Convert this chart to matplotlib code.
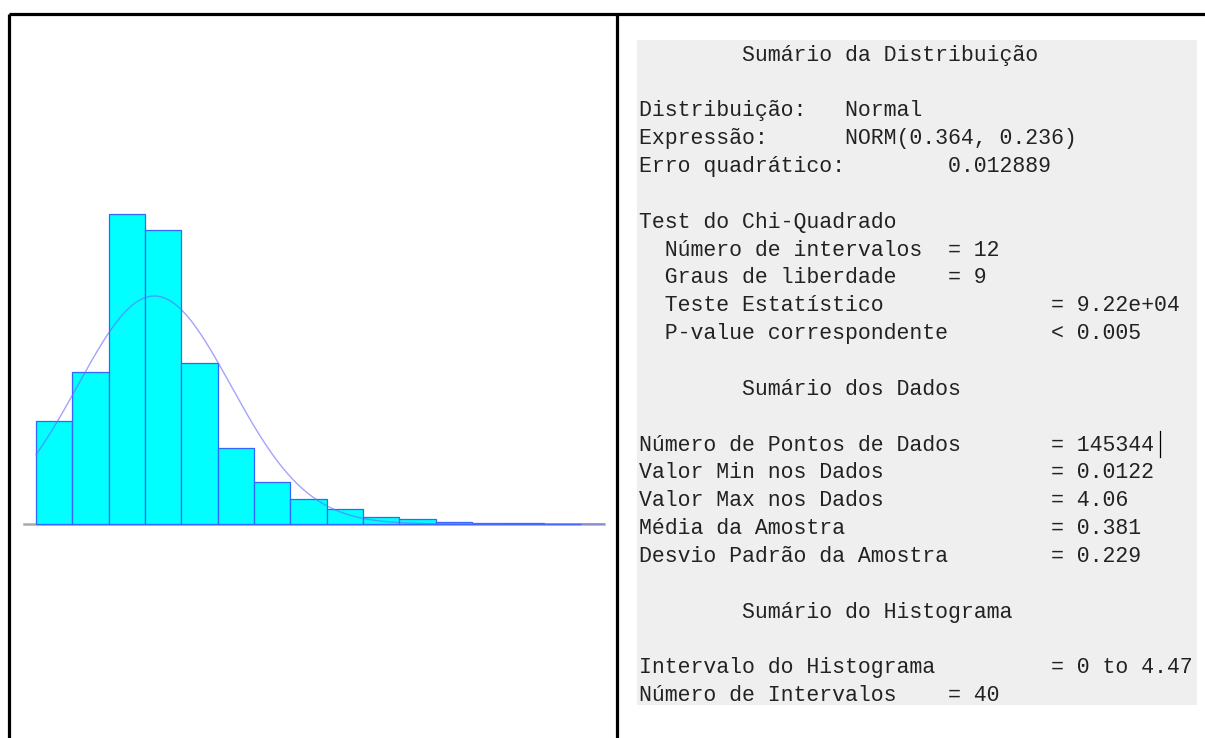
import numpy as np
import matplotlib.pyplot as plt

# histogram: 40 intervals over 0 .. 4.47, only the first 15 are visible
hist_lo, hist_hi, n_bins = 0.0, 4.47, 40
rel_freq = [0.0853, 0.126, 0.257, 0.2436, 0.1334, 0.063, 0.0348, 0.0207,
            0.0124, 0.0062, 0.0041, 0.0017, 0.0011, 0.0008, 0.0004]

# fitted distribution NORM(mean, sd)
fit_mean, fit_sd = 0.364, 0.236
sq_error = 0.012889
chi_intervals, chi_dof = 12, 9
chi_stat, p_value = "9.22e+04", "< 0.005"

n_points = 145344
data_min, data_max = 0.0122, 4.06
sample_mean, sample_sd = 0.381, 0.229

W, H = 1205, 738
fig = plt.figure(figsize=(W / 100, H / 100), dpi=100)
fig.patch.set_facecolor("white")

# overlay in pixel coordinates for the frame and text panel
ov = fig.add_axes([0, 0, 1, 1])
ov.set_xlim(0, W)
ov.set_ylim(H, 0)
ov.axis("off")
ov.add_patch(plt.Rectangle((637, 40), 560, 665, facecolor="#efefef",
                           edgecolor="none", zorder=0))
ov.plot([9, W], [14, 14], color="black", lw=2.3, solid_capstyle="butt")
ov.plot([9, 9], [14, H], color="black", lw=2.3, solid_capstyle="butt")
ov.plot([617, 617], [14, H], color="black", lw=2.3, solid_capstyle="butt")


def row(label, value, col=32):
    return label.ljust(col) + value


lines = [
    "        Sumário da Distribuição",
    "",
    "Distribuição:   Normal",
    f"Expressão:      NORM({fit_mean:.3f}, {fit_sd:.3f})",
    f"Erro quadrático:        {sq_error:.6f}",
    "",
    "Test do Chi-Quadrado",
    row("  Número de intervalos", f"= {chi_intervals}", 24),
    row("  Graus de liberdade", f"= {chi_dof}", 24),
    row("  Teste Estatístico", f"= {chi_stat}"),
    row("  P-value correspondente", p_value),
    "",
    "        Sumário dos Dados",
    "",
    row("Número de Pontos de Dados", f"= {n_points}"),
    row("Valor Min nos Dados", f"= {data_min}"),
    row("Valor Max nos Dados", f"= {data_max}"),
    row("Média da Amostra", f"= {sample_mean}"),
    row("Desvio Padrão da Amostra", f"= {sample_sd}"),
    "",
    "        Sumário do Histograma",
    "",
    row("Intervalo do Histograma", f"= {hist_lo:g} to {hist_hi}"),
    row("Número de Intervalos", f"= {n_bins}", 24),
]
for i, s in enumerate(lines):
    if s:
        ov.text(639, 55 + 27.86 * i, s, family="Liberation Mono", fontsize=15.5,
                color="#222222", va="center", ha="left")
# text cursor after the point count
ov.plot([1160, 1160], [431, 457], color="black", lw=0.9)

# histogram panel
ax = fig.add_axes([20 / W, (H - 600) / H, 590 / W, 500 / H])
ax.set_xlim((20 - 36) / 325, (610 - 36) / 325)
ax.set_ylim((524 - 600) / 1207, (524 - 100) / 1207)
ax.axis("off")
ax.patch.set_alpha(0)

binw = (hist_hi - hist_lo) / n_bins
edges = hist_lo + np.arange(len(rel_freq)) * binw
x_end = (604 - 36) / 325
ax.plot([(24 - 36) / 325, x_end], [0, 0], color="#aaaaaa", lw=1.8, zorder=1)
ax.bar(edges, rel_freq, width=binw, align="edge", color="#00ffff",
       edgecolor="#3366ff", linewidth=0.9, zorder=2)

xs = np.linspace(0, x_end, 400)
pdf = np.exp(-0.5 * ((xs - fit_mean) / fit_sd) ** 2) / (fit_sd * np.sqrt(2 * np.pi))
ax.plot(xs, pdf * binw, color="#6666ff", alpha=0.6, lw=1.0, zorder=3)

fig.savefig("out.png", dpi=100)
